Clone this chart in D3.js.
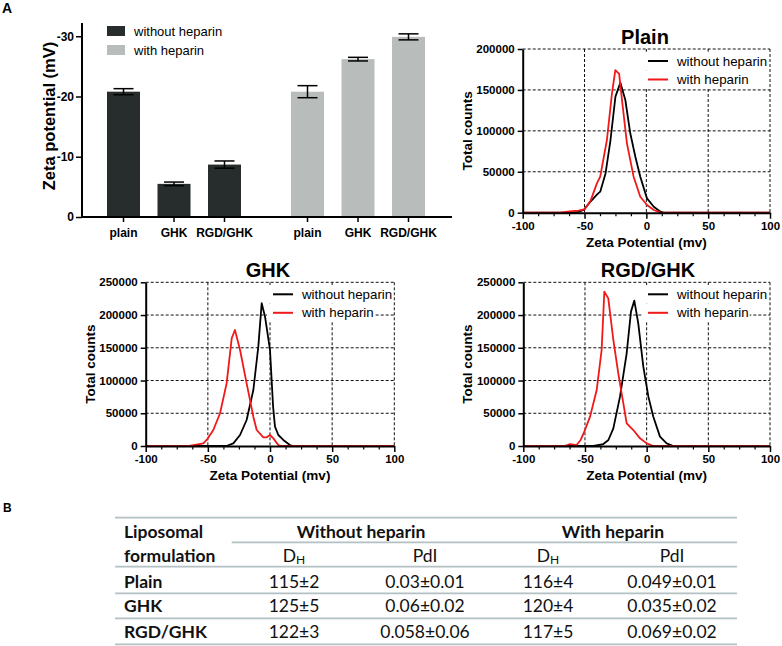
<!DOCTYPE html>
<html>
<head>
<meta charset="utf-8">
<script src="https://cdn.jsdelivr.net/npm/d3@7"></script>
<style>
  html, body { margin: 0; padding: 0; background: #fff; }
  svg { display: block; }
  .ax text { font-family: "Liberation Sans", Arial, sans-serif; font-weight: bold; fill: #000; }
</style>
</head>
<body>
<svg id="chart" width="782" height="646"></svg>
<script>
// ---------------- DATA ----------------
const barCategories = ["plain", "GHK", "RGD/GHK"];
const barGroups = ["without heparin", "with heparin"];
const zetaWithout = [-20.8, -5.5, -8.7];
const zetaWithoutErr = [0.5, 0.3, 0.6];
const zetaWith = [-20.8, -26.2, -29.9];
const zetaWithErr = [1.0, 0.3, 0.5];
const barTicks = [0, -10, -20, -30];

const zetaTicks = [-100, -50, 0, 50, 100];
const plainCountTicks = [0, 50000, 100000, 150000, 200000];
const countTicks250 = [0, 50000, 100000, 150000, 200000, 250000];
const seriesNames = ["without heparin", "with heparin"];

const plainWithout = [[-100,0],[-60,0],[-55,1000],[-50.8,3300],[-44,15500],[-40,22000],[-37.3,25700],[-33,48000],[-29,88800],[-25,141800],[-21,158900],[-17,137700],[-13,97000],[-8.9,68400],[-4.9,44000],[0.5,17500],[6,7300],[11.4,1200],[14,0],[100,0]];
const plainWith = [[-100,0],[-70,0],[-62,1500],[-55,2500],[-50,4000],[-45,15000],[-40,35800],[-37.3,44000],[-31.9,88800],[-27.8,145800],[-25.1,174300],[-22,169500],[-19.7,137700],[-15.7,84700],[-10.3,44000],[-4.9,19500],[0.5,9400],[6,3300],[11,400],[14,0],[100,0]];

const ghkWithout = [[-100,0],[-35,0],[-29.5,4000],[-24.1,16800],[-18.8,39700],[-13.4,85500],[-9.4,151700],[-6.7,218000],[-4,197600],[0,146700],[2.5,60000],[4,29500],[6.7,16800],[10.7,9200],[16,1500],[18.8,0],[100,0]];
const ghkWith = [[-100,0],[-65,0],[-61.7,1500],[-53.6,4000],[-50.9,9200],[-45.6,24400],[-40.2,50000],[-34.9,95700],[-30.8,164500],[-28.2,177200],[-24.1,146600],[-18.8,95700],[-13.4,44800],[-10.7,24400],[-5.4,13200],[-2.7,13200],[0,16800],[2.7,11700],[6.7,1500],[9.4,0],[100,0]];

const rgdWithout = [[-100,0],[-43.2,0],[-35.1,3000],[-31,9200],[-27,27000],[-21.6,75400],[-16.2,141600],[-12.7,205200],[-10,222000],[-6.8,187400],[-2.7,121200],[1.4,75400],[5.4,44800],[10.8,14300],[16.2,4000],[21.6,0],[100,0]];
const rgdWith = [[-100,0],[-67.6,0],[-64.3,1500],[-62.2,2800],[-56.8,1500],[-53.5,9200],[-50,24400],[-45.9,44800],[-40.5,85500],[-36.5,146600],[-34.3,235700],[-31.1,225500],[-27,161900],[-23,111000],[-18.9,65200],[-16.2,34600],[-10.8,24400],[-5.4,11700],[0,4000],[5.4,0],[100,0]];

const tableRows = ["Plain", "GHK", "RGD/GHK"];
const dhWithout = ["115±2", "125±5", "122±3"];
const pdiWithout = ["0.03±0.01", "0.06±0.02", "0.058±0.06"];
const dhWith = ["116±4", "120±4", "117±5"];
const pdiWith = ["0.049±0.01", "0.035±0.02", "0.069±0.02"];

// ---------------- DRAW ----------------
const svg = d3.select("#chart");
const FONT = '"Liberation Sans", Arial, sans-serif';
const DARK = "#272d2d", LIGHT = "#b8bdbc", RED = "#f01818";

svg.append("text").attr("x", 2).attr("y", 13).attr("font-family", FONT)
  .attr("font-weight", "bold").attr("font-size", 14).text("A");
svg.append("text").attr("x", 3).attr("y", 512).attr("font-family", FONT)
  .attr("font-weight", "bold").attr("font-size", 12).text("B");

// ---- Bar chart ----
(function () {
  const L = 82, R = 452, T = 23, B = 217;
  const g = svg.append("g");
  const y = d3.scaleLinear().domain([0, -32.2]).range([B, T]);
  const x0 = d3.scaleBand().domain(barGroups).range([98.25, 433.75]).paddingInner(0.1766).paddingOuter(0);
  const x1 = d3.scaleBand().domain(barCategories).range([0, x0.bandwidth()]).paddingInner(0.3465).paddingOuter(0.1733);
  const groups = [
    { name: barGroups[0], vals: zetaWithout, errs: zetaWithoutErr, color: DARK },
    { name: barGroups[1], vals: zetaWith, errs: zetaWithErr, color: LIGHT }
  ];
  groups.forEach(gr => {
    barCategories.forEach((c, i) => {
      const xb = x0(gr.name) + x1(c);
      const w = x1.bandwidth();
      g.append("rect").attr("x", xb).attr("y", y(gr.vals[i])).attr("width", w)
        .attr("height", y(0) - y(gr.vals[i])).attr("fill", gr.color);
      const cx = xb + w / 2;
      const hi = y(gr.vals[i] - gr.errs[i]), lo = y(gr.vals[i] + gr.errs[i]);
      g.append("line").attr("x1", cx).attr("x2", cx).attr("y1", hi).attr("y2", lo).attr("stroke", "#000").attr("stroke-width", 1.5);
      [hi, lo].forEach(v => g.append("line").attr("x1", cx - 10).attr("x2", cx + 10).attr("y1", v).attr("y2", v).attr("stroke", "#000").attr("stroke-width", 1.5));
    });
  });
  // y axis
  const ya = g.append("g").attr("class", "ax").attr("transform", `translate(${L},0)`)
    .call(d3.axisLeft(y).tickValues(barTicks).tickFormat(d => String(d)).tickSizeOuter(0).tickSizeInner(6).tickPadding(2));
  ya.select(".domain").attr("stroke-width", 2).attr("d", `M0,${T}V${B}`);
  ya.selectAll(".tick line").attr("stroke-width", 1.5);
  ya.selectAll("text").attr("font-size", 12);
  // x axis
  const xa = g.append("g").attr("class", "ax").attr("transform", `translate(0,${B})`);
  xa.append("line").attr("x1", L).attr("x2", R).attr("stroke", "#000").attr("stroke-width", 2);
  groups.forEach(gr => {
    barCategories.forEach(c => {
      const cx = x0(gr.name) + x1(c) + x1.bandwidth() / 2;
      xa.append("line").attr("x1", cx).attr("x2", cx).attr("y1", 0).attr("y2", 5).attr("stroke", "#000").attr("stroke-width", 1.5);
      xa.append("text").attr("x", cx).attr("y", 20).attr("text-anchor", "middle").attr("font-size", 12).text(c);
    });
  });
  g.append("text").attr("transform", `translate(55,116) rotate(-90)`).attr("text-anchor", "middle")
    .attr("font-family", FONT).attr("font-weight", "bold").attr("font-size", 16.5).text("Zeta potential (mV)");
  // legend
  groups.forEach((gr, i) => {
    const cy = 31 + i * 19;
    g.append("rect").attr("x", 107).attr("y", cy - 5).attr("width", 18).attr("height", 10).attr("fill", gr.color);
    g.append("text").attr("x", 134).attr("y", cy + 4.5).attr("font-family", FONT).attr("font-size", 13).text(gr.name);
  });
})();

// ---- Line charts ----
function lineChart(opt) {
  const { L, R, T, B, yTicks, title, black, red } = opt;
  const g = svg.append("g");
  const yMax = yTicks[yTicks.length - 1];
  const x = d3.scaleLinear().domain([-100, 100]).range([L, R]);
  const y = d3.scaleLinear().domain([0, yMax]).range([B, T]);
  // grid
  const grid = g.append("g").attr("stroke", "#111").attr("stroke-width", 1).attr("stroke-dasharray", "3,2");
  zetaTicks.filter(v => v > -100).forEach(v => grid.append("line").attr("x1", x(v)).attr("x2", x(v)).attr("y1", T).attr("y2", B));
  yTicks.filter(v => v > 0).forEach(v => grid.append("line").attr("x1", L).attr("x2", R).attr("y1", y(v)).attr("y2", y(v)));
  // curves
  const line = d3.line().x(d => x(d[0])).y(d => y(d[1]));
  g.append("path").datum(black).attr("d", line).attr("fill", "none").attr("stroke", "#000").attr("stroke-width", 1.8).attr("stroke-linejoin", "round");
  g.append("path").datum(red).attr("d", line).attr("fill", "none").attr("stroke", RED).attr("stroke-width", 1.8).attr("stroke-linejoin", "round");
  // axes
  const ya = g.append("g").attr("class", "ax").attr("transform", `translate(${L},0)`)
    .call(d3.axisLeft(y).tickValues(yTicks).tickFormat(d => String(d)).tickSizeOuter(0).tickSizeInner(5).tickPadding(3));
  ya.select(".domain").attr("stroke-width", 2);
  ya.selectAll(".tick line").attr("stroke-width", 1.5);
  ya.selectAll("text").attr("font-size", 11.5);
  const minor = d3.range(-100, 100.01, 12.5).filter(v => !zetaTicks.includes(v));
  const xm = g.append("g").attr("transform", `translate(0,${B})`)
    .call(d3.axisBottom(x).tickValues(minor).tickFormat("").tickSizeOuter(0).tickSizeInner(3.5));
  xm.select(".domain").remove();
  xm.selectAll(".tick line").attr("stroke-width", 1.2);
  const xa = g.append("g").attr("class", "ax").attr("transform", `translate(0,${B})`)
    .call(d3.axisBottom(x).tickValues(zetaTicks).tickFormat(d => String(d)).tickSizeOuter(0).tickSizeInner(6).tickPadding(3));
  xa.select(".domain").attr("stroke-width", 2);
  xa.selectAll(".tick line").attr("stroke-width", 1.5);
  xa.selectAll("text").attr("font-size", 11.5);
  // titles
  g.append("text").attr("x", (L + R) / 2).attr("y", B + 34).attr("text-anchor", "middle")
    .attr("font-family", FONT).attr("font-weight", "bold").attr("font-size", 13.5).text("Zeta Potential (mv)");
  g.append("text").attr("transform", `translate(${L - 51},${(T + B) / 2}) rotate(-90)`).attr("text-anchor", "middle")
    .attr("font-family", FONT).attr("font-weight", "bold").attr("font-size", 13.5).text("Total counts");
  g.append("text").attr("x", opt.titleX).attr("y", T - 5).attr("text-anchor", "middle")
    .attr("font-family", FONT).attr("font-weight", "bold").attr("font-size", 20).text(title);
  // legend
  const lx = opt.legX, ly = T + 12;
  [["#000", seriesNames[0]], [RED, seriesNames[1]]].forEach((s, i) => {
    const cy = ly + i * 18.5;
    const bg = g.append("rect").attr("fill", "#fff");
    g.append("line").attr("x1", lx).attr("x2", lx + 20).attr("y1", cy).attr("y2", cy).attr("stroke", s[0]).attr("stroke-width", 2);
    const t = g.append("text").attr("x", lx + 29).attr("y", cy + 4.5).attr("font-family", FONT).attr("font-size", 13.3).text(s[1]);
    const bb = t.node().getBBox();
    bg.attr("x", lx - 6).attr("y", cy - 9.25).attr("width", bb.x + bb.width - lx + 7).attr("height", 18.5);
  });
}

lineChart({ L: 522.7, R: 770, T: 49, B: 212.7, yTicks: plainCountTicks, title: "Plain", titleX: 645, legX: 648, black: plainWithout, red: plainWith });
lineChart({ L: 145.7, R: 394.3, T: 282.3, B: 446, yTicks: countTicks250, title: "GHK", titleX: 268, legX: 273, black: ghkWithout, red: ghkWith });
lineChart({ L: 523.3, R: 770, T: 282.3, B: 446, yTicks: countTicks250, title: "RGD/GHK", titleX: 648, legX: 648, black: rgdWithout, red: rgdWith });

// ---- Table ----
(function () {
  const g = svg.append("g").attr("font-family", "Lato, 'Open Sans', sans-serif").attr("font-size", 17.5).attr("fill", "#111");
  const TL = 115, TR = 737;
  const lineC = "#b3c0c4";
  [[517.7, TL], [542.3, 231.7], [566.7, TL], [593.3, TL], [618.3, TL], [644.3, TL]].forEach(l =>
    g.append("line").attr("x1", l[1]).attr("x2", TR).attr("y1", l[0]).attr("y2", l[0]).attr("stroke", lineC).attr("stroke-width", 1.8));
  const cols = [294, 425, 548, 672];
  g.append("text").attr("x", 124).attr("y", 538.3).attr("font-weight", "bold").text("Liposomal");
  g.append("text").attr("x", 124).attr("y", 561.7).attr("font-weight", "bold").text("formulation");
  g.append("text").attr("x", 361).attr("y", 538.3).attr("text-anchor", "middle").attr("font-weight", "bold").text("Without heparin");
  g.append("text").attr("x", 613).attr("y", 538.3).attr("text-anchor", "middle").attr("font-weight", "bold").text("With heparin");
  [cols[0], cols[2]].forEach(cx => {
    const t = g.append("text").attr("x", cx).attr("y", 561.7).attr("text-anchor", "middle");
    t.append("tspan").text("D");
    t.append("tspan").attr("font-size", 12).attr("dy", 2).text("H");
  });
  [cols[1], cols[3]].forEach(cx => g.append("text").attr("x", cx).attr("y", 561.7).attr("text-anchor", "middle").text("PdI"));
  const baselines = [587.7, 612.3, 637.7];
  tableRows.forEach((r, i) => {
    g.append("text").attr("x", 124).attr("y", baselines[i]).attr("font-weight", "bold").text(r);
    [dhWithout, pdiWithout, dhWith, pdiWith].forEach((arr, j) =>
      g.append("text").attr("x", cols[j]).attr("y", baselines[i]).attr("text-anchor", "middle").text(arr[i]));
  });
})();
</script>
</body>
</html>
